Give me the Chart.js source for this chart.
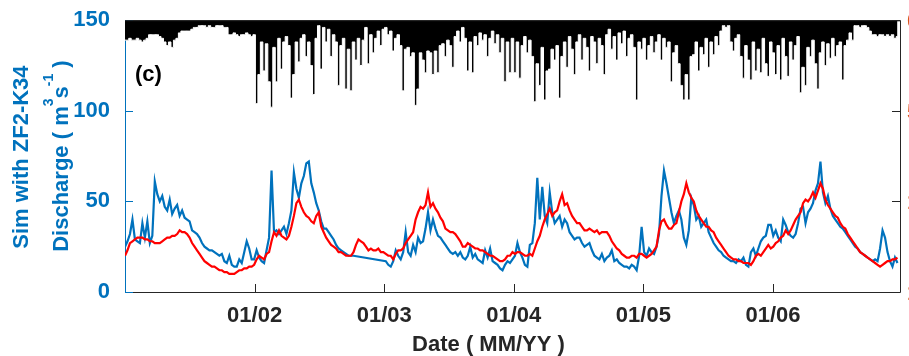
<!DOCTYPE html>
<html>
<head>
<meta charset="utf-8">
<script src="https://cdn.jsdelivr.net/npm/chart.js@4.4.1/dist/chart.umd.min.js"></script>
<style>
html, body { margin: 0; padding: 0; background: #fff; }
</style>
</head>
<body>
<canvas id="dischargeChart" width="909" height="356"></canvas>
<script>
// weekly series, first week = 01/01/2001
const startYear = 2001;
const weekStep = 7 / 365.25;

const tickYears = [2002, 2003, 2004, 2005, 2006];
const tickLabels = ["01/02", "01/03", "01/04", "01/05", "01/06"];
const yTicks = [0, 50, 100, 150];

// rainfall (hanging from the top, reversed right axis)
const rainfall = [
    11,11,10,11,11,10,11,12,11,10, 8,8,8,8,9,10, 12,14,12,15,11,10,7,6, 6,6,6,5,4,4, 3,3,3,4,3,4,4,3,3,3,4,4, 8,8,7,8,9,8,8,7,8,9,
    8,46,30,12,28,13,34,48,15,34, 10,27,12,9,14,43,30,12,23,10, 8,20,12,25,41,10,3,27,4,12, 5,20,8,12,36,14,10,38,16,39, 12,22,10,25,11,4,24,8,18,10, 6,14,
    5,4,8,6,17,10,8,14,39,16, 15,20,18,47,38,18,22,29,17,18, 30,17,29,14,13,20,11,14,26,9, 6,12,4,10,28,12,29,9,14,7, 11,8,20,10,6,13,8,18,10,34, 12,29,
    10,29,12,32,14,9,18,11,20,45, 24,36,15,44,28,27,16,22,14,43, 20,12,26,9,16,30,12,8,22,10, 15,28,9,12,24,10,14,30,8,5, 16,9,22,7,13,6,20,10,8,15, 44,12,
    16,10,22,14,9,18,12,8,22,10, 15,12,34,18,14,24,36,44,30,44, 20,19,12,28,15,19,10,26,12,19, 9,14,6,3,4,3,12,17,10,8, 20,32,14,22,33,12,28,16,29,10, 24,31,
    12,18,30,14,33,10,20,31,12,22, 14,9,40,26,36,15,20,11,24,38, 18,12,25,13,21,10,20,14,12,33, 14,11,7,11,3,3,4,3,3,4, 6,8,8,9,8,8,9,8,9,8, 10,9
];

// simulated discharge with ZF2-K34 (blue)
const simZF2K34 = [
    25,28,32,40,29,28,27,38,30,39, 27,31,61,54,50,53,47,45,51,43, 46,48,42,45,41,40,39,34,33,32, 30,27,25,24,23,23,22,21,20,21, 17,16,20,15,14,14,18,16,22,28, 24,18,
    18,23,19,17,16,23,30,67,33,34, 32,34,36,32,38,45,66,57,52,60, 64,71,72,60,55,49,45,39,35,35, 33,31,29,26,24,23,22,21,20,20, 20,null,null,null,null,null,null,null,null,null,null,null,
    null,17,15,14,17,23,20,18,22,33, 22,20,26,22,30,27,28,35,44,34, 40,35,31,30,28,26,24,22,21,22, 20,22,19,18,20,25,19,21,18,17, 16,23,19,24,17,16,15,13,12,15, 17,16,
    18,20,27,22,19,15,14,26,27,38, 63,40,58,42,38,55,44,38,40,42, 36,40,38,33,31,29,30,30,27,25, 26,27,23,20,19,18,21,17,19,20, 23,17,18,16,15,14,14,13,15,14, 12,20,
    36,22,20,24,22,21,25,32,53,67, 60,52,44,38,42,45,40,30,26,34, 52,48,40,42,36,38,40,33,30,27, 25,23,22,20,19,18,17,17,16,18, 17,19,15,14,22,24,20,24,28,30, 31,37,
    37,31,34,30,28,40,37,33,31,30, 32,38,46,47,38,44,46,49,56,60, 72,55,49,53,46,42,40,38,36,35, 33,31,29,27,25,24,22,21,20,19, 18,17,18,17,24,34,30,22,17,14, 19,16
];

// red discharge
const observed = [
    20,23,27,28,29,30,30,30,29,29, 28,28,27,27,27,28,29,30,30,31, 31,32,34,33,33,32,30,27,25,23, 21,19,17,16,15,14,14,13,12,12, 11,11,10,10,10,11,12,12,13,13, 14,14,
    15,18,20,19,18,21,22,28,33,31, 34,31,30,29,31,36,42,49,51,47, 44,42,41,39,38,42,44,36,33,30, 28,26,25,24,22,22,21,20,20,20, 22,26,29,28,27,25,23,24,23,23, 24,22,
    22,21,20,20,18,21,23,23,24,27, 29,31,33,40,44,47,46,48,55,47, 49,46,44,41,39,35,34,33,33,32, 30,28,25,25,27,26,25,24,24,23, 23,22,21,20,20,19,18,17,17,18, 20,20,
    22,21,22,22,21,20,20,21,20,24, 28,31,36,40,43,46,42,44,45,50, 54,48,49,45,42,40,38,38,36,34, 34,35,34,33,34,32,33,33,33,31, 28,26,24,23,21,20,19,19,20,20, 19,21,
    21,20,19,20,21,23,25,34,39,40, 37,35,35,37,38,44,50,54,60,55, 52,50,45,42,40,38,36,36,34,33, 30,28,26,24,22,20,19,18,18,17, 17,16,16,16,15,17,20,21,20,22, 24,26,
    24,25,27,28,30,31,34,32,34,37, 40,42,44,49,51,50,52,55,52,56, 60,57,51,48,46,44,42,41,38,36, 35,32,30,28,26,24,22,21,20,19, 18,17,16,15,14,15,16,17,17,18, 18,19
];

const FONT = '"Liberation Sans", Arial, Helvetica, sans-serif';
const blue = "#0072BD";
const red = "#FF0000";
const dark = "#262626";
const orange = "#D95319";

const weeks = rainfall.map((_, i) => startYear + i * weekStep);
const toPoints = arr => arr.map((v, i) => ({ x: weeks[i], y: v }));


/* axes box, inward ticks, titles */

const axesAndLabels = {
    id: "axesAndLabels",

    beforeDatasetsDraw(chart) {
        const { ctx, chartArea: a, scales } = chart;
        ctx.save();
        ctx.lineWidth = 1;

        ctx.strokeStyle = dark;
        ctx.beginPath();
        ctx.moveTo(a.left, a.top + 0.5);
        ctx.lineTo(a.right + 0.5, a.top + 0.5);
        ctx.lineTo(a.right + 0.5, a.bottom + 0.5);
        ctx.lineTo(a.left, a.bottom + 0.5);
        tickYears.forEach(yr => {
            const x = Math.round(scales.x.getPixelForValue(yr)) + 0.5;
            ctx.moveTo(x, a.bottom);
            ctx.lineTo(x, a.bottom - 8);
        });
        yTicks.forEach(v => {
            const y = Math.round(scales.y.getPixelForValue(v)) + 0.5;
            ctx.moveTo(a.right, y);
            ctx.lineTo(a.right - 8, y);
        });
        ctx.stroke();

        ctx.strokeStyle = blue;
        ctx.beginPath();
        ctx.moveTo(a.left + 0.5, a.top);
        ctx.lineTo(a.left + 0.5, a.bottom + 0.5);
        yTicks.forEach(v => {
            const y = Math.round(scales.y.getPixelForValue(v)) + 0.5;
            ctx.moveTo(a.left, y);
            ctx.lineTo(a.left + 8, y);
        });
        ctx.stroke();
        ctx.restore();
    },

    afterDraw(chart) {
        const { ctx, chartArea: a, scales } = chart;
        ctx.save();

        // top edge of the rainfall panel
        ctx.strokeStyle = dark;
        ctx.lineWidth = 1;
        ctx.beginPath();
        ctx.moveTo(a.left, a.top + 0.5);
        ctx.lineTo(a.right + 0.5, a.top + 0.5);
        ctx.stroke();

        // right axis labels, cut by the edge
        ctx.fillStyle = orange;
        ctx.font = "bold 22px " + FONT;
        ctx.textAlign = "left";
        ctx.textBaseline = "middle";
        scales.y2.ticks.forEach(t => {
            ctx.fillText(String(t.value), a.right + 7, scales.y2.getPixelForValue(t.value) + 2);
        });

        // panel letter
        ctx.fillStyle = "#000";
        ctx.fillText("(c)", a.left + 10, a.top + 55);

        // x title
        ctx.fillStyle = dark;
        ctx.textAlign = "center";
        ctx.textBaseline = "alphabetic";
        ctx.fillText("Date ( MM/YY )", (a.left + a.right) / 2 - 24, a.bottom + 59);

        // y title, two lines
        const midY = (a.top + a.bottom) / 2;
        ctx.fillStyle = blue;
        ctx.save();
        ctx.translate(28, midY + 1);
        ctx.rotate(-Math.PI / 2);
        ctx.fillText("Sim with ZF2-K34", 0, 0);
        ctx.restore();

        const parts = [
            { t: "Discharge ( m", sup: false },
            { t: "3", sup: true },
            { t: "s", sup: false },
            { t: "-1", sup: true },
            { t: " )", sup: false }
        ];
        const mainFont = "bold 22px " + FONT;
        const supFont = "bold 14px " + FONT;
        let total = 0;
        parts.forEach(p => {
            ctx.font = p.sup ? supFont : mainFont;
            p.w = ctx.measureText(p.t).width;
            total += p.w;
        });
        ctx.save();
        ctx.translate(68, midY);
        ctx.rotate(-Math.PI / 2);
        ctx.textAlign = "left";
        let cx = -total / 2;
        parts.forEach(p => {
            ctx.font = p.sup ? supFont : mainFont;
            ctx.fillText(p.t, cx, p.sup ? -15 : 0);
            cx += p.w;
        });
        ctx.restore();

        ctx.restore();
    }
};


/* CHART */

const ctx = document.getElementById("dischargeChart");

new Chart(ctx, {

    type: "line",

    data: {
        datasets: [
            {
                label: "Observed",
                data: toPoints(observed),
                borderColor: red,
                borderWidth: 2.2,
                pointRadius: 0,
                tension: 0,
                order: 0
            },
            {
                label: "Sim with ZF2-K34",
                data: toPoints(simZF2K34),
                borderColor: blue,
                borderWidth: 2.2,
                pointRadius: 0,
                tension: 0,
                spanGaps: true,
                order: 1
            },
            {
                // white edge keeps the hanging bars thin and separated
                label: "Rainfall",
                data: toPoints(rainfall),
                yAxisID: "y2",
                borderColor: "#fff",
                backgroundColor: "#000",
                borderWidth: 1,
                pointRadius: 0,
                stepped: "middle",
                fill: "origin",
                order: 2
            }
        ]
    },

    options: {
        responsive: false,
        animation: false,
        devicePixelRatio: 1,
        events: [],
        layout: {
            padding: { top: 20, left: 0, right: 0, bottom: 0 }
        },
        plugins: {
            legend: { display: false },
            tooltip: { enabled: false }
        },
        scales: {
            x: {
                type: "linear",
                min: 2001,
                max: 2006.98,
                offset: false,
                grid: { display: false },
                border: { display: false },
                afterBuildTicks: s => {
                    s.ticks = tickYears.map(v => ({ value: v }));
                },
                afterFit: s => { s.height = 64; },
                ticks: {
                    autoSkip: false,
                    maxRotation: 0,
                    padding: 3,
                    color: dark,
                    font: { family: FONT, size: 22, weight: "bold" },
                    callback: v => tickLabels[tickYears.indexOf(v)]
                }
            },
            y: {
                position: "left",
                min: 0,
                max: 150,
                grid: { display: false },
                border: { display: false },
                afterBuildTicks: s => {
                    s.ticks = yTicks.map(v => ({ value: v }));
                },
                afterFit: s => { s.width = 125; },
                ticks: {
                    padding: 7,
                    color: blue,
                    font: { family: FONT, size: 22, weight: "bold" }
                }
            },
            y2: {
                position: "right",
                reverse: true,
                min: 0,
                max: 150,
                grid: { display: false },
                border: { display: false },
                afterBuildTicks: s => {
                    s.ticks = yTicks.map(v => ({ value: v }));
                },
                afterFit: s => { s.width = 9; },
                ticks: { display: false }
            }
        }
    },

    plugins: [axesAndLabels]

});
</script>
</body>
</html>
